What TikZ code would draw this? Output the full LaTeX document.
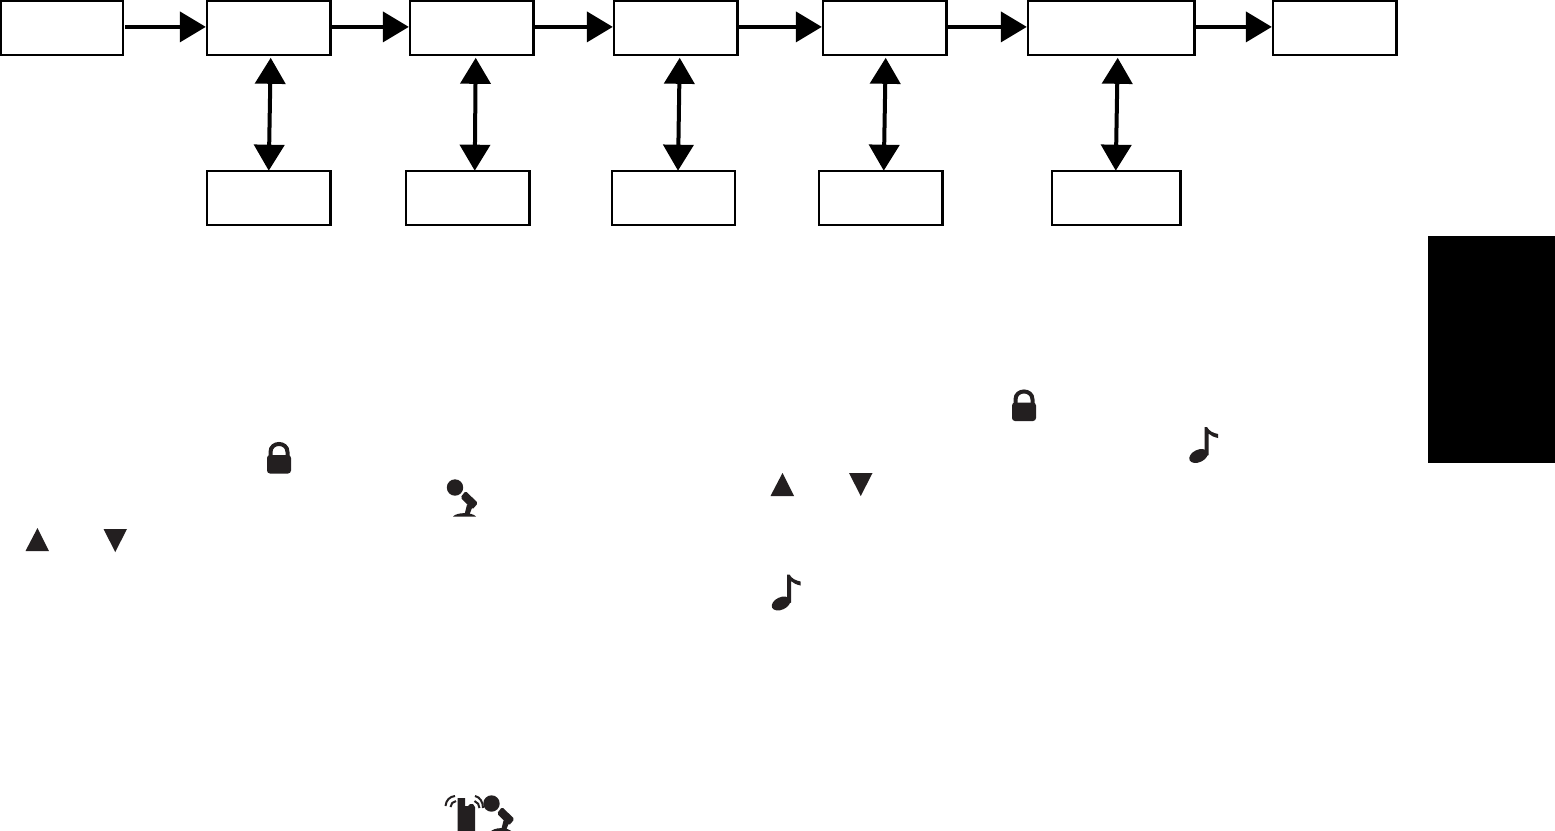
\documentclass[tikz,border=0pt]{standalone}
\usetikzlibrary{arrows.meta}
\definecolor{iconblack}{HTML}{231F20}
\tikzset{
  x=0.5pt,y=-0.5pt,
  box/.style={draw=black,line width=1.1pt,fill=white,inner sep=0pt,outer sep=0pt,anchor=north west,minimum height=27pt},
  flow/.style={line width=2pt,draw=black,-{Triangle[length=13pt,width=15pt]},shorten >=0.6pt,shorten <=0.4pt},
  both/.style={line width=2pt,draw=black,{Triangle[length=13pt,width=15pt]}-{Triangle[length=13pt,width=15pt]},shorten <=1.3pt,shorten >=0pt},
  icon/.style={fill=iconblack,draw=none},
  iconline/.style={draw=iconblack,fill=none},
  lockicon/.pic={
    \fill[icon,rounded corners=1.5pt] (0,13) rectangle (24,31.5);
    \draw[iconline,line width=2pt] (3.5,15) -- (3.5,10) .. controls (3.5,-0.7) and (20.5,-0.7) .. (20.5,10) -- (20.5,15);
  },
  micicon/.pic={
    \fill[icon] (0,0) circle[radius=4.1pt];
    \fill[icon,rounded corners=0.8pt] (10.5,3.5) -- (23,15.5) -- (17.5,22) -- (5.5,10) -- cycle;
    \fill[icon] (12,17) -- (17.5,19) -- (14.5,27) -- (9.5,27) -- cycle;
    \fill[icon] (-2,29) .. controls (2,24.5) and (17,24.5) .. (21,29) -- cycle;
  },
  noteicon/.pic={
    \fill[icon,shift={(9.5,29)},rotate=25] (0,0) ellipse[x radius=4.9pt,y radius=3.1pt];
    \fill[icon] (15.5,0) -- (15.5,30) -- (19.5,28) -- (19.5,6.5) .. controls (22,9) and (25,10) .. (29,11) -- (29,7) .. controls (24,6) and (20,4) .. (18,0) -- cycle;
  },
  upicon/.pic={\fill[icon] (12,0) -- (23.5,23) -- (0,23) -- cycle;},
  downicon/.pic={\fill[icon] (0,0) -- (23.5,0) -- (11.75,23) -- cycle;},
}
\begin{document}
\begin{tikzpicture}
\useasboundingbox (0,0) rectangle (1555,831);
\clip (0,0) rectangle (1555,831);
\fill[white] (0,0) rectangle (1555,831);
% upper row
\node[box,minimum width=61.25pt] (a1) at (0.8,1.2) {};
\node[box,minimum width=61.75pt] (a2) at (207,1.2) {};
\node[box,minimum width=61.75pt] (a3) at (410,1.2) {};
\node[box,minimum width=61.75pt] (a4) at (614,1.2) {};
\node[box,minimum width=61.75pt] (a5) at (823,1.2) {};
\node[box,minimum width=83.25pt] (a6) at (1028,1.2) {};
\node[box,minimum width=61.75pt] (a7) at (1273,1.2) {};
% lower row
\node[box,minimum width=61.75pt] (b2) at (207,170.7) {};
\node[box,minimum width=61.75pt] (b3) at (406,170.7) {};
\node[box,minimum width=61.5pt] (b4) at (612,170.7) {};
\node[box,minimum width=61.75pt] (b5) at (819,170.7) {};
\node[box,minimum width=64.25pt] (b6) at (1052,170.7) {};
% horizontal arrows
\draw[flow,shorten <=1pt] ([yshift=0.65pt]a1.east) -- ([yshift=0.65pt]a2.west);
\draw[flow] ([yshift=0.65pt]a2.east) -- ([yshift=0.65pt]a3.west);
\draw[flow] ([yshift=0.65pt]a3.east) -- ([yshift=0.65pt]a4.west);
\draw[flow,shorten <=0.9pt] ([yshift=0.65pt]a4.east) -- ([yshift=0.65pt]a5.west);
\draw[flow] ([yshift=0.65pt]a5.east) -- ([yshift=0.65pt]a6.west);
\draw[flow,shorten <=-0.5pt] ([yshift=0.65pt]a6.east) -- ([yshift=0.65pt]a7.west);
% double arrows
\draw[both] ([xshift=1pt]a2.south) -- ([xshift=0pt]b2.north);
\draw[both] ([xshift=2pt]a3.south) -- ([xshift=3.5pt]b3.north);
\draw[both] ([xshift=2pt]a4.south) -- ([xshift=2.25pt]b4.north);
\draw[both] ([xshift=0.5pt]a5.south) -- ([xshift=1.5pt]b5.north);
\draw[both] ([xshift=3.25pt]a6.south) -- ([xshift=-0.25pt]b6.north);
% side tab
\fill[black] (1428,236) rectangle (1555,463);
% icons
\pic at (267,442) {lockicon};
\pic at (1012,389.5) {lockicon};
\pic at (455,487.5) {micicon};
\pic at (491.5,803.5) {micicon};
\fill[icon] (489.5,833) .. controls (493,826.5) and (509,826.5) .. (513,833) -- cycle;
\pic at (1189,427) {noteicon};
\pic at (771.5,574.5) {noteicon};
\pic at (25.5,528) {upicon};
\pic at (103.5,529) {downicon};
\pic at (770.5,473) {upicon};
\pic at (849,473) {downicon};
% radio
\fill[icon] (457.5,835) -- (457.5,798) -- (465,798) -- (465,806) -- (468,806) -- (470,804) -- (473,804) -- (475,807) -- (475,835) -- cycle;
\draw[iconline,line width=1pt] (445.5,806) .. controls (446,800) and (450,796.5) .. (455,796);
\draw[iconline,line width=1pt] (450.5,807) .. controls (450.5,804) and (453,801.5) .. (456,801);
\draw[iconline,line width=1pt] (475,796) .. controls (480,797) and (483,802) .. (483,808);
\draw[iconline,line width=1pt] (474.5,801) .. controls (477.5,802) and (479.5,805) .. (479.5,808);
\end{tikzpicture}
\end{document}
